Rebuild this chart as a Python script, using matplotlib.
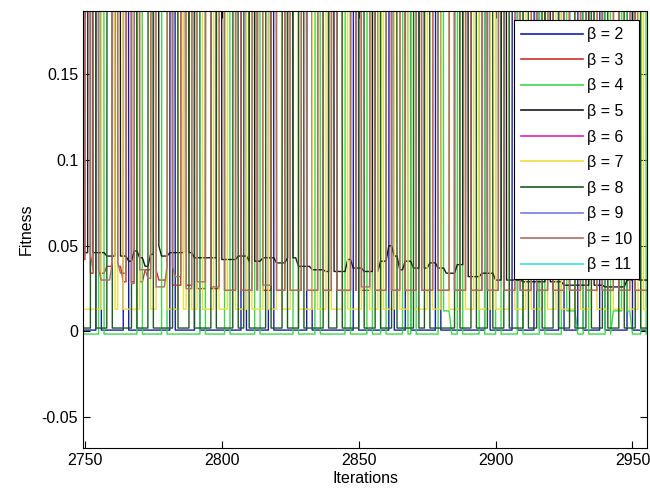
# -*- coding: utf-8 -*-
"""
fitness vs iterations for different beta values (zoomed window 2750-2955)
"""

import numpy as np
import matplotlib
matplotlib.use('Agg')
import matplotlib.pyplot as plt
from matplotlib import rcParams
import matplotlib.ticker as ticker

rcParams['font.family'] = ['Liberation Sans', 'DejaVu Sans']
rcParams['axes.unicode_minus'] = False
rcParams['font.size'] = 11.5

# iterations window
iters = np.arange(2740, 2966)

# value used where a run jumps far above the shown window
high = 3.0

# beta labels and colours
betas = [2, 3, 4, 5, 6, 7, 8, 9, 10, 11]
colors = ['#1c1ca8', '#d03030', '#3cd84a', '#1a1a22', '#e020b0',
          '#f2dc3c', '#1e5a1e', '#7878e8', '#a87068', '#3ce0e0']

# resting fitness levels (iteration where the level starts, value)
levels_b2 = [(2740, 0.0008)]
levels_b3 = [(2740, 0.042), (2752, 0.034), (2758, 0.038), (2764, 0.029),
             (2772, 0.036), (2777, 0.030), (2782, 0.027), (2790, 0.025),
             (2800, 0.024)]
levels_b4 = [(2740, -0.0015), (2880, 0.012), (2884, -0.0015), (2925, 0.012),
             (2930, -0.0015), (2943, 0.012), (2950, -0.0015)]
levels_b5 = [(2740, 0.046), (2758, 0.044), (2766, 0.041), (2768, 0.047),
             (2770, 0.043), (2772, 0.038), (2774, 0.045), (2776, 0.050),
             (2778, 0.044), (2781, 0.046), (2790, 0.043), (2800, 0.042),
             (2806, 0.044), (2810, 0.041), (2815, 0.043), (2820, 0.040),
             (2824, 0.043), (2828, 0.038), (2833, 0.036), (2838, 0.035),
             (2846, 0.042), (2848, 0.037), (2852, 0.035), (2858, 0.041),
             (2861, 0.050), (2863, 0.044), (2865, 0.036), (2867, 0.041),
             (2870, 0.037), (2876, 0.040), (2879, 0.037), (2882, 0.034),
             (2886, 0.039), (2889, 0.032), (2895, 0.034), (2900, 0.030),
             (2910, 0.029), (2925, 0.027), (2940, 0.026), (2948, 0.030)]
levels_b6 = [(2740, high)]
levels_b7 = [(2740, 0.013)]
levels_b8 = [(2740, 0.002)]
levels_b9 = [(2740, high)]
levels_b10 = [(2740, 0.045), (2753, 0.036), (2756, 0.030), (2760, 0.040),
              (2763, 0.034), (2766, 0.028), (2770, 0.036), (2773, 0.031),
              (2776, 0.026), (2780, 0.038), (2783, 0.032), (2786, 0.025),
              (2790, 0.029), (2795, 0.026), (2800, 0.024), (2815, 0.027),
              (2820, 0.024), (2850, 0.026), (2855, 0.024)]
levels_b11 = [(2740, high)]

# iterations where each run jumps off the top of the window
spikes_b2 = [2755, 2765, 2782, 2791, 2808, 2818, 2832, 2849, 2862, 2868,
             2879, 2897, 2907, 2915, 2924, 2931, 2939, 2949]
spikes_b3 = [2751, 2754, 2761, 2766, 2769, 2775, 2781, 2786, 2790, 2795,
             2800, 2806, 2812, 2814, 2819, 2824, 2830, 2836, 2841, 2848,
             2850, 2855, 2861, 2866, 2872, 2878, 2884, 2890, 2896, 2902,
             2908, 2914, 2920, 2926, 2932, 2938, 2944, 2950]
spikes_b4 = [2756, 2770, 2779, 2793, 2802, 2813, 2827, 2835, 2846, 2854,
             2859, 2867, 2870, 2880, 2887, 2895, 2901, 2909, 2917, 2925,
             2933, 2941, 2947, 2954]
spikes_b5 = [2752, 2762, 2776, 2787, 2799, 2811, 2825, 2840, 2856, 2873,
             2889, 2903, 2919, 2935, 2951]
spikes_b6 = []
spikes_b7 = [2757, 2758, 2759, 2760, 2763, 2771, 2772, 2773, 2777, 2778,
             2779, 2785, 2788, 2792, 2798, 2803, 2804, 2810, 2816, 2821,
             2826, 2827, 2834, 2839, 2845, 2852, 2853, 2858, 2864, 2869,
             2876, 2881, 2882, 2888, 2893, 2899, 2906, 2912, 2918, 2923,
             2930, 2936, 2942, 2948, 2953]
spikes_b8 = [2753, 2759, 2768, 2774, 2783, 2789, 2797, 2805, 2809, 2817,
             2823, 2829, 2838, 2843, 2851, 2857, 2863, 2871, 2875, 2886,
             2892, 2898, 2904, 2911, 2916, 2922, 2928, 2934, 2940, 2946,
             2952]
spikes_b9 = []
spikes_b10 = [2751, 2754, 2761, 2766, 2769, 2775, 2781, 2786, 2790, 2795,
              2800, 2806, 2812, 2814, 2819, 2824, 2830, 2836, 2841, 2848,
              2850, 2855, 2861, 2866, 2872, 2878, 2884, 2890, 2896, 2902,
              2908, 2914, 2920, 2926, 2932, 2938, 2944, 2950]
spikes_b11 = []

levels = [levels_b2, levels_b3, levels_b4, levels_b5, levels_b6,
          levels_b7, levels_b8, levels_b9, levels_b10, levels_b11]
spikes = [spikes_b2, spikes_b3, spikes_b4, spikes_b5, spikes_b6,
          spikes_b7, spikes_b8, spikes_b9, spikes_b10, spikes_b11]


def build_run(lev, spk):
    y = np.empty(len(iters))
    for start, val in lev:
        y[iters >= start] = val
    y[np.isin(iters, spk)] = high
    return y


fig = plt.figure(figsize=(6.5, 4.98), dpi=100)
ax1 = fig.add_axes([83 / 650, 50 / 498, 564 / 650, 437 / 498])

for b, c, lev, spk in zip(betas, colors, levels, spikes):
    ax1.plot(iters, build_run(lev, spk), color=c, linewidth=1.0,
             label=u'\u03b2 = %d' % b)

ax1.set_xlim(2749.3, 2955.3)
ax1.set_ylim(-0.068, 0.187)
ax1.set_xticks([2750, 2800, 2850, 2900, 2950])
ax1.set_yticks([-0.05, 0, 0.05, 0.1, 0.15])
ax1.yaxis.set_major_formatter(ticker.FuncFormatter(lambda v, pos: '{0:g}'.format(round(v, 3))))
ax1.tick_params(direction='in', length=5, top=True, right=True, width=0.8)
for s in ax1.spines.values():
    s.set_linewidth(0.8)

ax1.set_xlabel('Iterations', labelpad=2)
ax1.set_ylabel('Fitness', labelpad=6)

leg = ax1.legend(loc='upper right', bbox_to_anchor=(0.986, 0.979),
                 borderaxespad=0, fancybox=False, framealpha=1,
                 edgecolor='black', handlelength=3.9, labelspacing=0.66,
                 borderpad=0.45, handletextpad=0.2)
leg.get_frame().set_linewidth(0.8)
for ln in leg.get_lines():
    ln.set_linewidth(1.2)

fig.savefig('out.png', dpi=100)
